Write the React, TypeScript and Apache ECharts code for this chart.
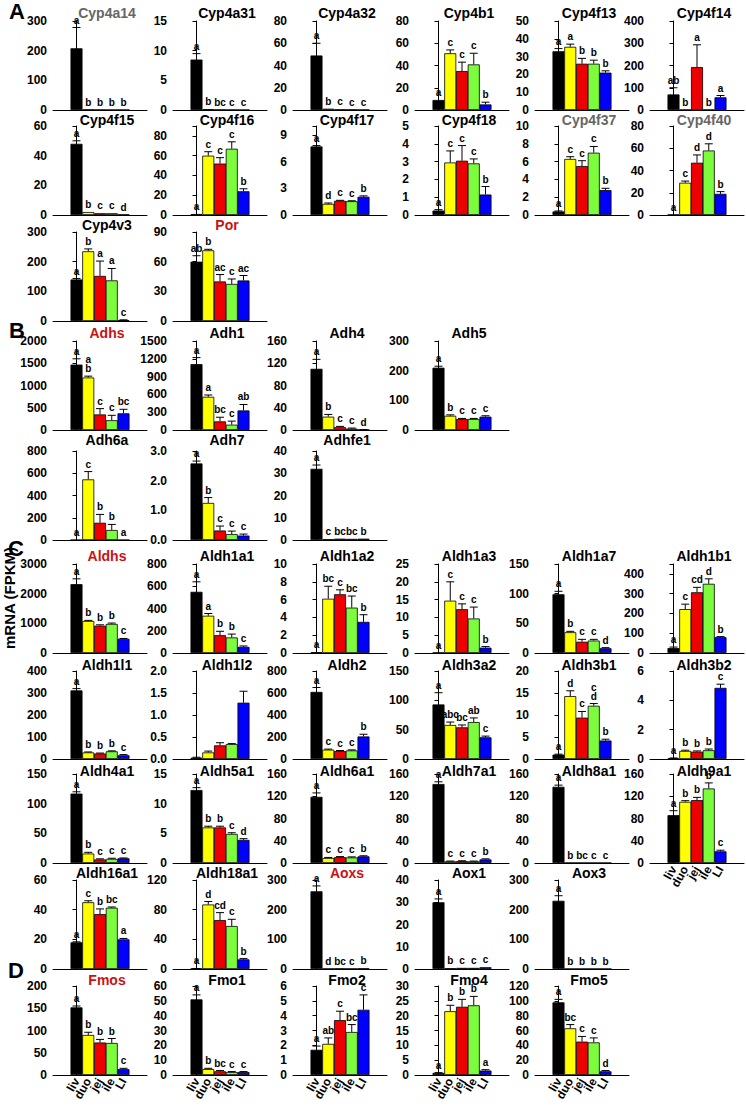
import React, { useEffect, useRef } from 'react';
import * as echarts from 'echarts';

const groups = ['liv', 'duo', 'jej', 'ile', 'LI'];
const barColors = ['#000000', '#ffff00', '#ee0000', '#7cfc3c', '#0000ff'];

// ---- Section A ----
const namesA = ['Cyp4a14', 'Cyp4a31', 'Cyp4a32', 'Cyp4b1', 'Cyp4f13', 'Cyp4f14', 'Cyp4f15', 'Cyp4f16', 'Cyp4f17', 'Cyp4f18', 'Cyp4f37', 'Cyp4f40', 'Cyp4v3', 'Por'];
const meansA = [
  [208, 1.5, 0.8, 0.5, 0.5],
  [8.5, 0.15, 0.06, 0.04, 0.02],
  [49, 1.2, 0.5, 0.4, 0.2],
  [9, 51, 35, 41, 5],
  [33, 35.5, 26, 26, 21],
  [70, 1, 193, 1, 57],
  [48, 2, 1.2, 1.2, 0.3],
  [1, 60, 52, 67, 24],
  [7.7, 1.25, 1.6, 1.55, 2.05],
  [0.25, 2.95, 3.05, 2.9, 1.15],
  [0.4, 6.3, 5.5, 7.0, 2.8],
  [0.3, 29, 47, 58, 19],
  [140, 235, 152, 137, 3],
  [60, 71.5, 40, 37.5, 41],
];
const errsA = [
  [70, 0, 0, 0, 0],
  [1.0, 0, 0, 0, 0],
  [11, 0, 0, 0, 0],
  [0, 3, 8, 10, 2],
  [1.5, 1.5, 3, 2, 1],
  [30, 0, 100, 0, 8],
  [2, 0, 0, 0, 0],
  [0, 4, 6, 7, 2.5],
  [0.1, 0.1, 0.05, 0.05, 0.1],
  [0.05, 0.65, 0.85, 0.25, 0.45],
  [0.05, 0.25, 0.6, 0.7, 0.2],
  [0, 1.5, 7, 6, 2],
  [3, 8, 50, 40, 1],
  [6, 1, 7, 5, 5],
];
const lettersA = [
  ['a', 'b', 'b', 'b', 'b'],
  ['a', 'b', 'bc', 'c', 'c'],
  ['a', 'b', 'c', 'c', 'c'],
  ['a', 'c', 'c', 'c', 'b'],
  ['a', 'a', 'b', 'b', 'b'],
  ['ab', 'b', 'a', 'b', 'a'],
  ['a', 'b', 'c', 'c', 'd'],
  ['a', 'c', 'c', 'c', 'b'],
  ['a', 'd', 'c', 'c', 'b'],
  ['a', 'c', 'c', 'c', 'b'],
  ['a', 'c', 'c', 'c', 'b'],
  ['a', 'c', 'd', 'd', 'b'],
  ['a', 'b', 'a', 'a', 'c'],
  ['ab', 'b', 'ac', 'c', 'ac'],
];
const yMaxA = [300, 15, 80, 80, 50, 400, 60, 90, 10, 5, 10, 80, 300, 90];
const yStepA = [100, 5, 20, 20, 10, 100, 20, 20, 3, 1, 2, 20, 100, 30];

// ---- Section B ----
const namesB = ['Adhs', 'Adh1', 'Adh4', 'Adh5', 'Adh6a', 'Adh7', 'Adhfe1'];
const meansB = [
  [1470, 1180, 350, 220, 375],
  [1110, 560, 145, 90, 330],
  [110, 24, 5, 2.5, 0.5],
  [210, 48, 37, 37, 45],
  [0, 545, 155, 90, 0],
  [2.58, 1.25, 0.32, 0.2, 0.15],
  [32, 0.3, 0.6, 0.5, 0.6],
];
const errsB = [
  [130, 30, 130, 110, 90],
  [110, 30, 70, 60, 100],
  [17, 4, 1.5, 1, 0.3],
  [5, 3, 2, 2, 3],
  [0, 70, 75, 50, 0],
  [0.08, 0.18, 0.15, 0.1, 0.05],
  [1.7, 0, 0, 0, 0],
];
const lettersB = [
  ['a', 'a\nb', 'c', 'c', 'bc'],
  ['a', 'a', 'bc', 'c', 'ab'],
  ['a', 'b', 'c', 'c', 'd'],
  ['a', 'b', 'c', 'c', 'c'],
  ['a', 'c', 'b', 'b', 'a'],
  ['a', 'b', 'c', 'c', 'c'],
  ['a', 'c', 'bc', 'bc', 'b'],
];
const yMaxB = [2000, 1500, 160, 300, 800, 3, 40];
const yStepB = [500, 300, 40, 100, 200, 1, 10];

// ---- Section C ----
const namesC = ['Aldhs', 'Aldh1a1', 'Aldh1a2', 'Aldh1a3', 'Aldh1a7', 'Aldh1b1', 'Aldh1l1', 'Aldh1l2', 'Aldh2', 'Aldh3a2', 'Aldh3b1', 'Aldh3b2', 'Aldh4a1', 'Aldh5a1', 'Aldh6a1', 'Aldh7a1', 'Aldh8a1', 'Aldh9a1', 'Aldh16a1', 'Aldh18a1', 'Aoxs', 'Aox1', 'Aox3'];
const meansC = [
  [2320, 1080, 920, 980, 480],
  [550, 335, 160, 140, 55],
  [0.1, 6.1, 6.6, 5.1, 3.5],
  [0.1, 14.7, 12.3, 9.7, 1.5],
  [99, 35, 19, 21, 8],
  [25, 222, 307, 350, 80],
  [312, 30, 25, 35, 17],
  [0.03, 0.15, 0.31, 0.34, 1.28],
  [610, 85, 72, 78, 205],
  [93, 58, 54, 63, 37],
  [1, 14.3, 9.4, 12.1, 4.2],
  [0.05, 0.55, 0.5, 0.6, 4.85],
  [117, 16, 6, 7, 8],
  [12.3, 6.0, 6.0, 4.9, 3.9],
  [119, 9, 10.5, 10, 12],
  [142, 3, 3.5, 3, 6.5],
  [137, 0.3, 0.3, 0.2, 0.2],
  [86, 110, 113, 134, 21],
  [18, 45, 37, 41.3, 20],
  [0.5, 87, 66, 58, 13],
  [262, 1, 1.5, 1, 2],
  [30, 0.3, 0.5, 0.5, 0.8],
  [230, 0.5, 0.5, 0.5, 0.5],
];
const errsC = [
  [180, 20, 30, 30, 10],
  [90, 20, 35, 30, 8],
  [0, 1.4, 0.5, 1.3, 0.8],
  [0, 5.3, 1.5, 3.2, 0.3],
  [5, 1.5, 4, 2, 1],
  [5, 25, 25, 25, 3],
  [8, 2, 2, 2, 3],
  [0.01, 0.03, 0.06, 0.01, 0.26],
  [40, 5, 5, 5, 20],
  [20, 5, 4, 7, 2],
  [0.1, 1.2, 1.4, 0.5, 0.3],
  [0.02, 0.05, 0.05, 0.08, 0.25],
  [3, 2, 1, 1, 0.5],
  [0.4, 0.2, 0.2, 0.2, 0.2],
  [7, 1, 1, 1, 1],
  [4, 0.5, 0.5, 0.5, 1],
  [3, 0, 0, 0, 0],
  [8, 2, 5, 10, 2],
  [0.3, 1, 3.5, 0.5, 0.6],
  [0.2, 4, 10, 9, 1],
  [18, 0, 0, 0, 0],
  [1.5, 0, 0, 0, 0],
  [17, 0, 0, 0, 0],
];
const lettersC = [
  ['a', 'b', 'b', 'b', 'c'],
  ['a', 'a', 'b', 'b', 'c'],
  ['a', 'bc', 'c', 'bc', 'b'],
  ['a', 'c', 'c', 'c', 'b'],
  ['a', 'b', 'c', 'c', 'd'],
  ['a', 'c', 'cd', 'd', 'b'],
  ['a', 'b', 'b', 'b', 'c'],
  ['', '', '', '', ''],
  ['a', 'c', 'c', 'c', 'b'],
  ['a', 'abc', 'bc', 'ab', 'c'],
  ['a', 'd', 'c', 'c\nd', 'b'],
  ['a', 'b', 'b', 'b', 'c'],
  ['a', 'b', 'c', 'c', 'c'],
  ['a', 'b', 'b', 'c', 'd'],
  ['a', 'c', 'c', 'c', 'b'],
  ['a', 'c', 'c', 'c', 'b'],
  ['a', 'b', 'bc', 'c', 'c'],
  ['a', 'b', 'b', 'b', 'c'],
  ['a', 'c', 'b', 'bc', 'a'],
  ['a', 'd', 'cd', 'c', 'b'],
  ['a', 'd', 'bc', 'c', 'b'],
  ['a', 'b', 'c', 'c', 'c'],
  ['a', 'b', 'b', 'b', 'b'],
];
const yMaxC = [3000, 800, 10, 25, 150, 450, 400, 2, 800, 150, 20, 6, 150, 15, 160, 160, 160, 160, 60, 120, 300, 40, 300];
const yStepC = [1000, 200, 2, 5, 50, 100, 100, 0.5, 200, 50, 5, 2, 50, 5, 40, 40, 40, 40, 20, 40, 100, 10, 100];

// ---- Section D ----
const namesD = ['Fmos', 'Fmo1', 'Fmo2', 'Fmo4', 'Fmo5'];
const meansD = [
  [152, 90, 73, 72, 13],
  [51, 4, 2.5, 2, 2],
  [1.7, 2.1, 3.7, 2.9, 4.4],
  [0.7, 21.5, 23, 23.5, 1.5],
  [98, 63, 45, 44, 5],
];
const errsD = [
  [3, 6, 7, 10, 2],
  [3, 0.5, 0.5, 0.3, 0.3],
  [0.25, 0.4, 0.6, 0.5, 1.0],
  [0.1, 2, 2.5, 3, 0.3],
  [4, 5, 7, 6, 1],
];
const lettersD = [
  ['a', 'b', 'b', 'b', 'c'],
  ['a', 'b', 'bc', 'c', 'c'],
  ['a', 'ab', 'c', 'bc', 'c'],
  ['a', 'b', 'b', 'b', 'a'],
  ['a', 'bc', 'c', 'c', 'd'],
];
const yMaxD = [200, 60, 6, 30, 120];
const yStepD = [50, 10, 1, 5, 20];

const grayTitles = ['Cyp4a14', 'Cyp4f37', 'Cyp4f40'];
const redTitles = ['Por', 'Adhs', 'Aldhs', 'Aoxs', 'Fmos'];
const oneDecimal = ['Adh7', 'Aldh1l2'];
const xLabelPanels = ['Aldh9a1', 'Fmos', 'Fmo1', 'Fmo2', 'Fmo4', 'Fmo5'];

// ---- layout ----
const rowSizes = [6, 6, 2, 4, 3, 6, 6, 6, 5, 5];
const rowTop = [21, 126, 232, 341, 451, 564, 671, 774, 880, 986];
const rowBottom = [110, 215, 321, 430, 540, 653, 759, 863, 969, 1075];
const rowTitleY = [13, 120, 225, 333, 440, 556, 665, 771, 873, 980];
const colX = [53, 173, 293, 415, 535, 650];
const plotW = 94;
const FONT = '"Liberation Sans", Arial, Helvetica, sans-serif';

function buildOption() {
  const names = [...namesA, ...namesB, ...namesC, ...namesD];
  const means = [...meansA, ...meansB, ...meansC, ...meansD];
  const errs = [...errsA, ...errsB, ...errsC, ...errsD];
  const letters = [...lettersA, ...lettersB, ...lettersC, ...lettersD];
  const yMax = [...yMaxA, ...yMaxB, ...yMaxC, ...yMaxD];
  const yStep = [...yStepA, ...yStepB, ...yStepC, ...yStepD];

  const grid: any[] = [];
  const xAxis: any[] = [];
  const yAxis: any[] = [];
  const series: any[] = [];
  const graphic: any[] = [];

  let k = 0;
  rowSizes.forEach((n, r) => {
    for (let c = 0; c < n; c++, k++) {
      const name = names[k];
      const idx = k;
      const step = yStep[k];
      const dec = oneDecimal.includes(name) ? 1 : 0;
      grid.push({ left: colX[c], top: rowTop[r], width: plotW, height: rowBottom[r] - rowTop[r] });
      const showX = xLabelPanels.includes(name);
      xAxis.push({
        gridIndex: k, type: 'value', min: -2, max: 6, interval: 1,
        axisLine: { show: true, onZero: false, lineStyle: { color: '#000', width: 1 } },
        axisTick: { show: false }, splitLine: { show: false },
        axisLabel: showX ? {
          show: true, rotate: 60, margin: 4, fontSize: 12, fontWeight: 'bold', color: '#000', fontFamily: FONT,
          formatter: (v: number) => (Number.isInteger(v) && v >= 0 && v < 5 ? groups[v] : ''),
        } : { show: false },
      });
      yAxis.push({
        gridIndex: k, type: 'value', min: 0, max: yMax[k], interval: step,
        axisLine: { show: true, lineStyle: { color: '#000', width: 1 } },
        axisTick: { show: true, length: 4, lineStyle: { color: '#000' } },
        splitLine: { show: false },
        axisLabel: {
          fontSize: 12, fontWeight: 'bold', color: '#000', fontFamily: FONT, margin: 6,
          formatter: (v: number) => {
            const q = v / step;
            return Math.abs(q - Math.round(q)) < 1e-6 ? v.toFixed(dec) : '';
          },
        },
      });
      series.push({
        type: 'bar', xAxisIndex: k, yAxisIndex: k, barWidth: 12, silent: true,
        itemStyle: { borderColor: '#000', borderWidth: 0.8 },
        data: means[k].map((v, i) => ({ value: [i, v], itemStyle: { color: barColors[i] } })),
      });
      series.push({
        type: 'custom', xAxisIndex: k, yAxisIndex: k, silent: true, z: 5,
        data: means[k].map((v, i) => [i, v, errs[k][i]]),
        renderItem: (params: any, api: any) => {
          const i = api.value(0);
          const v = api.value(1);
          const e = api.value(2);
          const base = api.coord([i, v]);
          const top = api.coord([i, v + e]);
          const children: any[] = [];
          if (e > 0) {
            children.push({ type: 'line', shape: { x1: base[0], y1: base[1], x2: top[0], y2: top[1] }, style: { stroke: '#000', lineWidth: 1 } });
            children.push({ type: 'line', shape: { x1: top[0] - 4, y1: top[1], x2: top[0] + 4, y2: top[1] }, style: { stroke: '#000', lineWidth: 1 } });
          }
          const letter = letters[idx][params.dataIndex];
          if (letter) {
            children.push({
              type: 'text', x: top[0], y: top[1] - 3,
              style: { text: letter, fill: '#000', font: `bold 10px ${FONT}`, textAlign: 'center', textVerticalAlign: 'bottom', align: 'center', verticalAlign: 'bottom', lineHeight: 9 },
            });
          }
          return { type: 'group', children };
        },
      });
      const color = grayTitles.includes(name) ? '#666666' : redTitles.includes(name) ? '#cc1111' : '#000000';
      graphic.push({
        type: 'text', x: colX[c] + 54, y: rowTitleY[r], silent: true,
        style: { text: name, fill: color, font: `bold 14px ${FONT}`, textAlign: 'center', textVerticalAlign: 'middle' },
      });
    }
  });

  const sections = [['A', 17, 11], ['B', 17, 330], ['C', 16, 548], ['D', 16, 970]];
  sections.forEach(([t, x, y]) => {
    graphic.push({ type: 'text', x, y, silent: true, style: { text: t, fill: '#000', font: `bold 22px ${FONT}`, textAlign: 'center', textVerticalAlign: 'middle' } });
  });
  graphic.push({
    type: 'text', x: 9, y: 598, rotation: Math.PI / 2, silent: true,
    style: { text: 'mRNA (FPKM)', fill: '#000', font: `bold 15px ${FONT}`, textAlign: 'center', textVerticalAlign: 'middle' },
  });

  return { animation: false, backgroundColor: '#ffffff', grid, xAxis, yAxis, series, graphic };
}

export default function App() {
  const ref = useRef<HTMLDivElement>(null);
  useEffect(() => {
    if (!ref.current) return;
    const chart = echarts.init(ref.current, null, { renderer: 'svg', width: 746, height: 1107 });
    chart.setOption(buildOption() as any);
    return () => chart.dispose();
  }, []);
  return <div ref={ref} style={{ position: 'absolute', left: 0, top: 0, width: 746, height: 1107, background: '#fff' }} />;
}
